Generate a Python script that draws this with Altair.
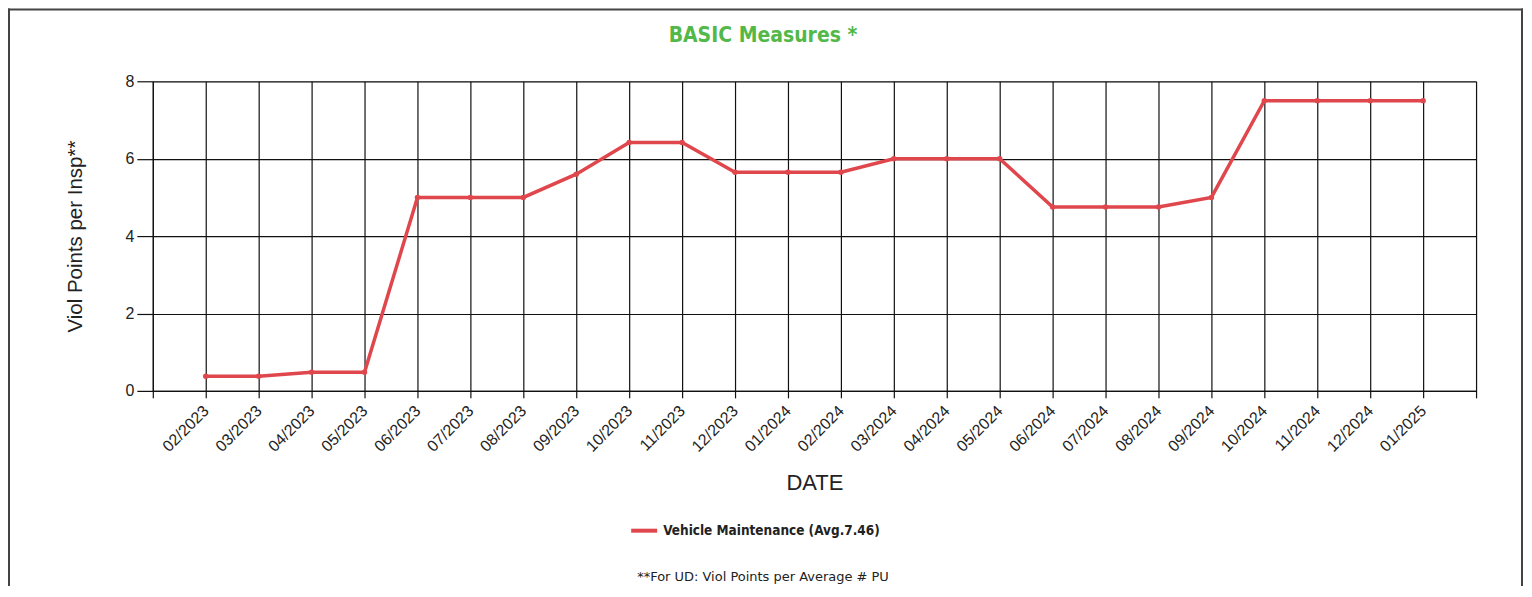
import altair as alt
import pandas as pd

months = ["02/2023", "03/2023", "04/2023", "05/2023", "06/2023", "07/2023",
          "08/2023", "09/2023", "10/2023", "11/2023", "12/2023", "01/2024",
          "02/2024", "03/2024", "04/2024", "05/2024", "06/2024", "07/2024",
          "08/2024", "09/2024", "10/2024", "11/2024", "12/2024", "01/2025"]
values = [0.38, 0.38, 0.48, 0.48, 5.0, 5.0, 5.0, 5.6, 6.42, 6.42, 5.65, 5.65,
          5.65, 6.0, 6.0, 6.0, 4.75, 4.75, 4.75, 5.0, 7.5, 7.5, 7.5, 7.5]
series_name = "Vehicle Maintenance (Avg.7.46)"
title_text = "BASIC Measures *"
footnote = "**For UD: Viol Points per Average # PU"
y_title = "Viol Points per Insp**"
x_title = "DATE"

idx = list(range(1, len(months) + 1))
df = pd.DataFrame({"idx": idx, "month": months, "value": values,
                   "series": [series_name] * len(months)})

all_labels = [""] + months + [""]
label_expr = "[" + ",".join("'" + m + "'" for m in all_labels) + "][datum.value]"

W, H = 1325, 310
RED = "#E0474C"

base = alt.Chart(df)

line = base.mark_line(strokeWidth=3.5, point=alt.OverlayMarkDef(size=30, filled=True)).encode(
    x=alt.X("idx:Q",
            scale=alt.Scale(domain=[0, len(months) + 1], nice=False, zero=False),
            axis=alt.Axis(values=list(range(0, len(months) + 2)), labelExpr=label_expr,
                          title=x_title, labelAngle=-45, labelAlign="right",
                          labelBaseline="middle", labelFont="Liberation Sans",
                          labelFontSize=16, labelColor="#222", labelPadding=10,
                          titleFont="Liberation Sans", titleFontSize=22,
                          titleFontWeight="normal", titleColor="#222", titlePadding=18,
                          grid=True, gridColor="#111", gridOpacity=1, gridWidth=1.2,
                          tickColor="#111", tickWidth=1.2,
                          tickSize=7, domainColor="#111", domainWidth=1.2)),
    y=alt.Y("value:Q",
            scale=alt.Scale(domain=[0, 8], nice=False),
            axis=alt.Axis(values=[0, 2, 4, 6, 8], title=y_title,
                          labelFont="Liberation Sans", labelFontSize=16,
                          labelColor="#222", labelPadding=3,
                          titleFont="Liberation Sans", titleFontSize=20.5,
                          titleFontWeight="normal", titleColor="#222", titlePadding=40,
                          grid=True, gridColor="#111", gridOpacity=1, gridWidth=1.2,
                          tickColor="#111", tickWidth=1.2,
                          tickSize=16, domainColor="#111", domainWidth=1.2)),
    color=alt.Color("series:N",
                    scale=alt.Scale(domain=[series_name], range=[RED]),
                    legend=alt.Legend(title=None, orient="none", legendX=477, legendY=435,
                                      symbolType="stroke", symbolStrokeWidth=4,
                                      symbolSize=676, labelLimit=400,
                                      labelFont="DejaVu Sans Condensed",
                                      labelFontSize=13.5, labelFontWeight="bold",
                                      labelColor="#222")),
)

title_mark = alt.Chart(pd.DataFrame({"t": [title_text]})).mark_text(
    font="DejaVu Sans Condensed", fontSize=21, fontWeight="bold", color="#52B848",
    align="center", baseline="middle"
).encode(text="t:N", x=alt.value(611), y=alt.value(-45))

note = alt.Chart(pd.DataFrame({"note": [footnote]})).mark_text(
    font="DejaVu Sans", fontSize=13, color="#222", align="center", baseline="middle"
).encode(text="note:N", x=alt.value(611), y=alt.value(496))

border_df = pd.DataFrame({"k": [1]})
left_b = alt.Chart(border_df).mark_rule(color="#444", strokeWidth=2).encode(
    x=alt.value(-144), y=alt.value(-73), y2=alt.value(520))
top_b = alt.Chart(border_df).mark_rule(color="#444", strokeWidth=2).encode(
    x=alt.value(-145), x2=alt.value(1372), y=alt.value(-72))
right_b = alt.Chart(border_df).mark_rule(color="#444", strokeWidth=2).encode(
    x=alt.value(1371), y=alt.value(-73), y2=alt.value(520))

chart = alt.layer(line, title_mark, note, left_b, top_b, right_b).properties(
    width=W, height=H,
    autosize=alt.AutoSizeParams(type="none"),
    padding={"left": 145, "top": 73, "right": 48, "bottom": 195},
).configure_view(stroke="#111", strokeWidth=1.2).configure(background="white")

chart.save("out.html", embed_options={"renderer": "svg", "actions": False})
